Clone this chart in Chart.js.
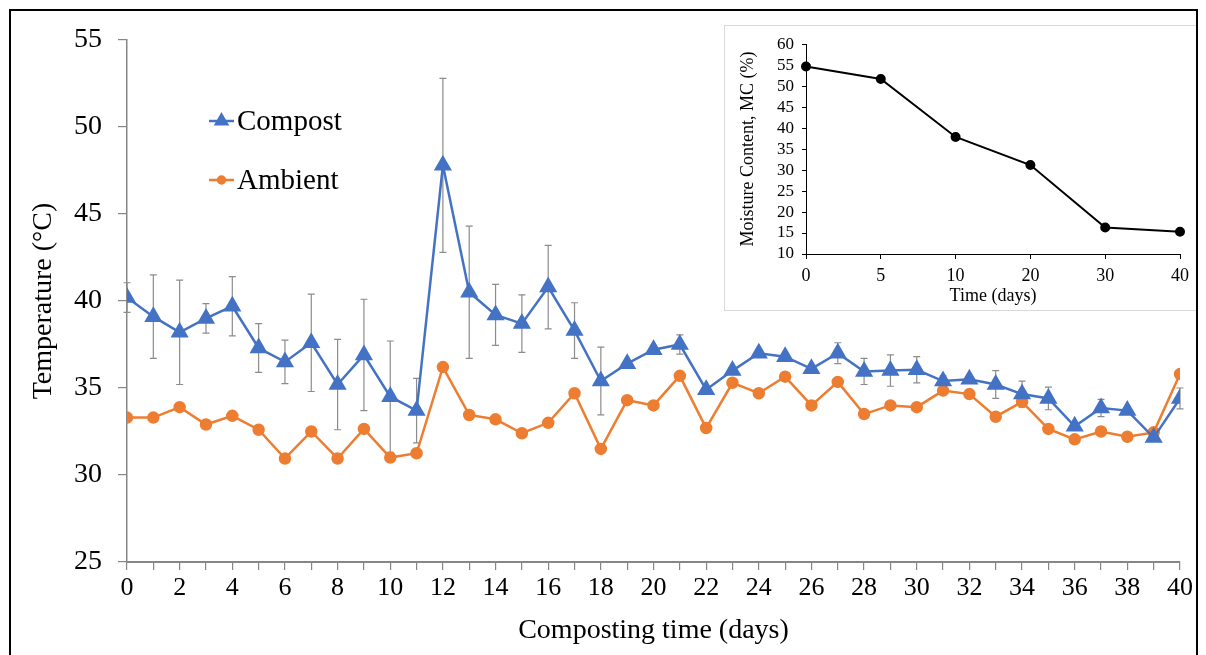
<!DOCTYPE html>
<html>
<head>
<meta charset="utf-8">
<script src="https://cdn.jsdelivr.net/npm/chart.js@4.4.1/dist/chart.umd.min.js"></script>
<style>
  html, body { margin: 0; padding: 0; background: #fff; }
  #wrap { position: relative; width: 1206px; height: 655px; overflow: hidden; }
  #main { position: absolute; left: 0; top: 0; }
  #frame { position: absolute; left: 9px; top: 9px; width: 1189px; height: 660px; border: 2px solid #000; box-sizing: border-box; pointer-events: none; }
  #insetBox { position: absolute; left: 724px; top: 25px; width: 474px; height: 286px; border: 1px solid #d9d9d9; background: #fff; box-sizing: border-box; }
  #inset { position: absolute; left: 0; top: 0; }
</style>
</head>
<body>
<div id="wrap">
  <canvas id="main" width="1206" height="655"></canvas>
  <div id="insetBox"><canvas id="inset" width="472" height="284"></canvas></div>
  <div id="frame"></div>
</div>
<script>
// main chart: temperature vs composting time
const days = [0,1,2,3,4,5,6,7,8,9,10,11,12,13,14,15,16,17,18,19,20,21,22,23,24,25,26,27,28,29,30,31,32,33,34,35,36,37,38,39,40]
const compostTemp = [40.2,39.1,38.2,39.0,39.7,37.3,36.5,37.6,35.2,36.9,34.5,33.7,47.8,40.5,39.2,38.7,40.8,38.3,35.4,36.4,37.2,37.5,34.9,36.0,37.0,36.8,36.1,37.0,35.95,36.0,36.05,35.4,35.5,35.2,34.65,34.4,32.8,33.85,33.7,32.15,34.4]
const compostSd = [0.85,2.4,3.0,0.85,1.7,1.4,1.25,2.8,2.6,3.2,3.2,1.85,5.0,3.8,1.75,1.65,2.4,1.6,1.95,0,0,0.55,0,0,0,0,0,0.6,0.75,0.9,0.75,0.3,0,0.8,0.75,0.65,0,0.5,0,0,0.6]
const ambientTemp = [33.3,33.3,33.9,32.9,33.4,32.6,30.95,32.5,30.95,32.65,31.0,31.25,36.2,33.45,33.2,32.4,33.0,34.7,31.5,34.3,34.0,35.7,32.7,35.3,34.7,35.65,34.0,35.35,33.5,34.0,33.9,34.85,34.65,33.35,34.2,32.65,32.05,32.5,32.2,32.45,35.8]

// inset: moisture content
const mcDays = ['0','5','10','20','30','40']
const mcValues = [54.7,51.7,37.9,31.2,16.3,15.3]

Chart.defaults.font.family = "'Liberation Serif', 'Times New Roman', serif"
Chart.defaults.color = '#000'

const blue = '#4472C4'
const orange = '#ED7D31'
const axisGray = '#868686'

const errorBars = {
  id: 'errorBars',
  beforeDatasetsDraw(chart) {
    const {ctx, scales: {x, y}} = chart
    ctx.save()
    ctx.strokeStyle = '#8c8c8c'
    ctx.lineWidth = 1.2
    days.forEach((d, i) => {
      const sd = compostSd[i]
      if (!sd) return
      const px = x.getPixelForValue(d)
      const top = y.getPixelForValue(compostTemp[i] + sd)
      const bot = y.getPixelForValue(compostTemp[i] - sd)
      ctx.beginPath()
      ctx.moveTo(px, top); ctx.lineTo(px, bot)
      ctx.moveTo(px - 3.5, top); ctx.lineTo(px + 3.5, top)
      ctx.moveTo(px - 3.5, bot); ctx.lineTo(px + 3.5, bot)
      ctx.stroke()
    })
    ctx.restore()
  }
}

const innerLegend = {
  id: 'innerLegend',
  afterDraw(chart) {
    const {ctx} = chart
    const rows = [[0, 121], [1, 180]]
    ctx.save()
    rows.forEach(([i, yy]) => {
      const ds = chart.data.datasets[i]
      ctx.strokeStyle = ds.borderColor
      ctx.lineWidth = 2.5
      ctx.beginPath()
      ctx.moveTo(209, yy); ctx.lineTo(234, yy)
      ctx.stroke()
      Chart.helpers.drawPoint(ctx, {pointStyle: ds.pointStyle, radius: ds.pointRadius - 1.5, borderWidth: 1}, 221.5, yy)
      ctx.fillStyle = ds.pointBackgroundColor
      ctx.fill()
      ctx.fillStyle = '#000'
      ctx.font = "29px 'Liberation Serif'"
      ctx.textBaseline = 'middle'
      ctx.fillText(ds.label, 237, yy + 1)
    })
    ctx.restore()
  }
}

new Chart(document.getElementById('main'), {
  type: 'line',
  data: {
    datasets: [{
      label: 'Compost',
      data: days.map((d, i) => ({x: d, y: compostTemp[i]})),
      borderColor: blue,
      backgroundColor: blue,
      pointBackgroundColor: blue,
      pointBorderColor: blue,
      pointStyle: 'triangle',
      pointRadius: 8,
      borderWidth: 2.5,
      lineTension: 0
    }, {
      label: 'Ambient',
      data: days.map((d, i) => ({x: d, y: ambientTemp[i]})),
      borderColor: orange,
      backgroundColor: orange,
      pointBackgroundColor: orange,
      pointBorderColor: orange,
      pointStyle: 'circle',
      pointRadius: 5,
      borderWidth: 2.5,
      lineTension: 0
    }]
  },
  options: {
    responsive: false,
    animation: false,
    layout: { padding: { top: 40, right: 26, left: 0, bottom: 0 } },
    plugins: { legend: { display: false }, tooltip: { enabled: false } },
    scales: {
      x: {
        type: 'linear',
        min: 0,
        max: 40,
        afterFit: scale => { scale.height = 93 },
        grid: { drawOnChartArea: false, drawTicks: true, tickLength: 8, color: axisGray, lineWidth: 1.2 },
        border: { color: axisGray, width: 2 },
        ticks: {
          stepSize: 1,
          autoSkip: false,
          maxRotation: 0,
          padding: 3,
          font: { size: 26 },
          callback: v => (v % 2 === 0 ? String(v) : '')
        },
        title: { display: true, text: 'Composting time (days)', font: { size: 28 }, padding: { top: 0, bottom: 8 } }
      },
      y: {
        min: 25,
        max: 55,
        afterFit: scale => { scale.width = 127 },
        grid: { drawOnChartArea: false, drawTicks: true, tickLength: 9, color: axisGray, lineWidth: 1.2 },
        border: { color: axisGray, width: 1.5 },
        ticks: { stepSize: 5, padding: 16, font: { size: 28 } },
        title: { display: true, text: 'Temperature (°C)', font: { size: 28 }, padding: { top: 27, bottom: 0 } }
      }
    }
  },
  plugins: [errorBars, innerLegend]
})

new Chart(document.getElementById('inset'), {
  type: 'line',
  data: {
    labels: mcDays,
    datasets: [{
      label: 'MC',
      data: mcValues,
      borderColor: '#000',
      backgroundColor: '#000',
      pointRadius: 4,
      borderWidth: 2,
      lineTension: 0
    }]
  },
  options: {
    responsive: false,
    animation: false,
    layout: { padding: { top: 17, right: 17, left: 0, bottom: 0 } },
    plugins: { legend: { display: false }, tooltip: { enabled: false } },
    scales: {
      x: {
        offset: false,
        afterFit: scale => { scale.height = 56 },
        grid: { drawOnChartArea: false, tickLength: 5, color: '#000' },
        border: { color: '#000', width: 1 },
        ticks: { padding: 6, maxRotation: 0, font: { size: 18 } },
        title: { display: true, text: 'Time (days)', font: { size: 18 }, padding: { top: 0, bottom: 3 } }
      },
      y: {
        min: 10,
        max: 60,
        afterFit: scale => { scale.width = 81 },
        grid: { drawOnChartArea: false, tickLength: 4, color: '#000' },
        border: { color: '#000', width: 1 },
        ticks: { stepSize: 5, autoSkip: false, padding: 8, font: { size: 17 } },
        title: { display: true, text: 'Moisture Content, MC (%)', font: { size: 18 }, padding: { top: 12, bottom: 0 } }
      }
    }
  }
})
</script>
</body>
</html>
